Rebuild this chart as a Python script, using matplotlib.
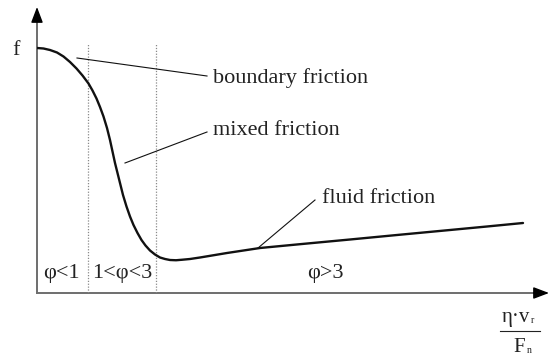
import numpy as np
import matplotlib
matplotlib.use("Agg")
import matplotlib.pyplot as plt

plt.rcParams['font.family'] = ['Liberation Serif', 'DejaVu Serif']

# Stribeck curve, friction coefficient f over the bearing parameter
param = [0.00, 0.13, 0.26, 0.40, 0.53, 0.66, 0.79, 0.91, 1.03, 1.11, 1.19,
         1.26, 1.33, 1.40, 1.46, 1.51, 1.56, 1.61, 1.66, 1.72, 1.79, 1.86,
         1.93, 2.01, 2.09, 2.17, 2.26, 2.36, 2.46, 2.56, 2.66, 2.78, 2.90,
         3.06, 3.26, 3.80, 4.46, 5.30, 6.26, 7.20, 8.26, 9.00, 9.72]
friction = [4.90, 4.89, 4.86, 4.81, 4.73, 4.62, 4.49, 4.35, 4.19, 4.05, 3.89,
            3.72, 3.53, 3.30, 3.06, 2.83, 2.60, 2.40, 2.20, 1.96, 1.73, 1.53,
            1.36, 1.20, 1.06, 0.95, 0.85, 0.77, 0.71, 0.68, 0.66, 0.655, 0.665,
            0.68, 0.71, 0.80, 0.90, 0.98, 1.07, 1.16, 1.26, 1.33, 1.40]

# borders between the lubrication regimes
regime_bounds = [1.02, 2.38]
regime_labels = ['φ<1', '1<φ<3', 'φ>3']
regime_x = [0.12, 1.10, 5.40]

# regime names with their leader lines (start on the curve, end at the text)
names = ['boundary friction', 'mixed friction', 'fluid friction']
name_pos = [(3.52, 4.20), (3.52, 3.16), (5.70, 1.80)]
leader_from = [(0.80, 4.70), (1.76, 2.60), (4.42, 0.90)]
leader_to = [(3.40, 4.34), (3.40, 3.22), (5.56, 1.86)]

txt = '#222222'
fs = 16

fig = plt.figure(figsize=(5.5, 3.57), dpi=100)
ax = fig.add_axes([37 / 550, 64 / 357, 512 / 550, 286 / 357])
ax.set_xlim(0, 10.24)
ax.set_ylim(0, 5.72)
ax.axis('off')

# axes with arrow heads
axc = '#6e6e6e'
ax.plot([0, 0], [0, 0.97], color=axc, lw=1.4, transform=ax.transAxes, clip_on=False)
ax.plot([0, 0.98], [0, 0], color=axc, lw=1.4, transform=ax.transAxes, clip_on=False)
head = dict(arrowstyle='-|>,head_length=0.95,head_width=0.36', color='black',
            lw=1, shrinkA=0, shrinkB=0)
ax.annotate('', xy=(0, 1), xytext=(0, 0.96), xycoords='axes fraction',
            arrowprops=head, annotation_clip=False)
ax.annotate('', xy=(1, 0), xytext=(0.97, 0), xycoords='axes fraction',
            arrowprops=head, annotation_clip=False)

for xb in regime_bounds:
    ax.plot([xb, xb], [0, 4.98], color='#8a8a8a', lw=0.9, ls=(0, (1, 1.3)))

ax.plot(param, friction, color='#111111', lw=1.7, solid_capstyle='round',
        solid_joinstyle='round')

for (x0, y0), (x1, y1) in zip(leader_from, leader_to):
    ax.plot([x0, x1], [y0, y1], color='#111111', lw=0.8)

for name, (x, y) in zip(names, name_pos):
    ax.text(x, y, name, fontsize=fs, color=txt, ha='left', va='baseline')

for lab, x in zip(regime_labels, regime_x):
    ax.text(x, 0.30, lab, fontsize=fs, color=txt, ha='left', va='baseline')

ax.text(-0.42, 4.76, 'f', fontsize=fs, color=txt, ha='center', va='baseline',
        clip_on=False)

# x-axis quantity written as a fraction
ax.text(9.58, -0.58, 'η·v', fontsize=fs - 1, color=txt, ha='center', va='baseline',
        clip_on=False)
ax.text(9.88, -0.60, 'r', fontsize=7, color=txt, ha='left', va='baseline', clip_on=False)
ax.plot([9.26, 10.06], [-0.76, -0.76], color=txt, lw=0.8, clip_on=False)
ax.text(9.64, -1.18, 'F', fontsize=fs - 1, color=txt, ha='center', va='baseline',
        clip_on=False)
ax.text(9.80, -1.20, 'n', fontsize=7, color=txt, ha='left', va='baseline', clip_on=False)

fig.savefig('out.png', dpi=100)
